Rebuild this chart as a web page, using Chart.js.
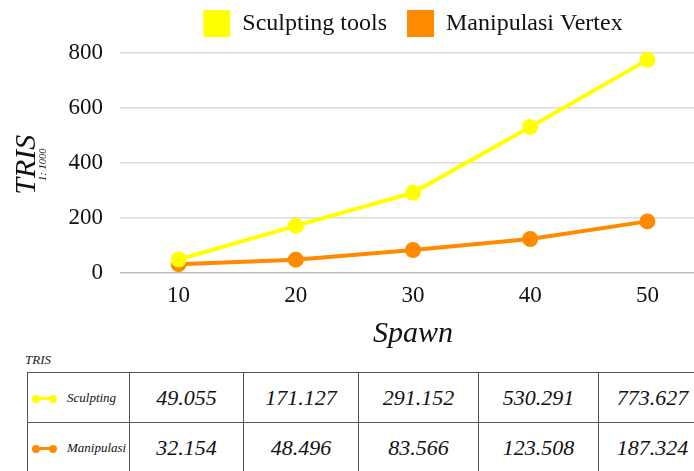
<!DOCTYPE html>
<html>
<head>
<meta charset="utf-8">
<script src="https://cdn.jsdelivr.net/npm/chart.js@4"></script>
<style>
html, body { margin: 0; padding: 0; overflow: hidden; background: #fff; width: 694px; height: 471px; }
#wrap { position: absolute; left: 0; top: 0; width: 716px; height: 352px; }
#tlabel { position: absolute; left: 25px; top: 352px; font: italic 13px "Liberation Serif"; color: #222; }
table { position: absolute; left: 27px; top: 372px; width: 679px; border-collapse: collapse; table-layout: fixed;
        font-family: "Liberation Serif"; font-style: italic; color: #111; }
td { border: 1px solid #555; height: 49px; padding: 0; text-align: center; font-size: 22px; }
td.name { text-align: left; font-size: 13px; white-space: nowrap; }
.mk { display: inline-block; position: relative; width: 25px; height: 8px; margin: 0 10px 0 4px; vertical-align: middle; }
.mk i { position: absolute; left: 2px; right: 2px; top: 2.5px; height: 3px; }
.mk b { position: absolute; top: 0; width: 8px; height: 8px; border-radius: 50%; }
</style>
</head>
<body>
<div id="wrap"><canvas id="trisChart"></canvas></div>
<div id="tlabel">TRIS</div>
<table id="trisTable"></table>
<script>
var spawnLabels = ["10", "20", "30", "40", "50"];
var sculptingTris = [49.055, 171.127, 291.152, 530.291, 773.627];
var manipulasiTris = [32.154, 48.496, 83.566, 123.508, 187.324];
var seriesNames = ["Sculpting tools", "Manipulasi Vertex"];
var rowNames = ["Sculpting", "Manipulasi"];
var seriesColors = ["#ffff00", "#ff8a00"];
var yMax = 800, yStep = 200;

// y axis title with the small "1: 1000" under it
var yTitle = {
    id: "yTitle",
    afterDraw: function (chart) {
        var ctx = chart.ctx, area = chart.chartArea;
        ctx.save();
        ctx.translate(35, (area.top + area.bottom) / 2 + 2);
        ctx.rotate(-Math.PI / 2);
        ctx.fillStyle = "#111";
        ctx.textAlign = "center";
        ctx.textBaseline = "alphabetic";
        ctx.font = "italic 30px 'Liberation Serif'";
        ctx.fillText("TRIS", 0, 0);
        ctx.font = "italic 10.5px 'Liberation Serif'";
        ctx.fillText("1: 1000", 0, 11);
        ctx.restore();
    }
};

// a bit more room under the legend
var legendGap = {
    id: "legendGap",
    beforeInit: function (chart) {
        var fit = chart.legend.fit;
        chart.legend.fit = function () {
            fit.bind(chart.legend)();
            this.height += 5.6;
        };
    }
};

new Chart(document.getElementById("trisChart"), {
    type: "line",
    data: {
        labels: spawnLabels,
        datasets: [
            {
                label: seriesNames[0],
                data: sculptingTris,
                borderColor: seriesColors[0],
                backgroundColor: seriesColors[0],
                pointBackgroundColor: seriesColors[0],
                pointBorderColor: seriesColors[0],
                borderWidth: 4,
                pointRadius: 6,
            },
            {
                label: seriesNames[1],
                data: manipulasiTris,
                borderColor: seriesColors[1],
                backgroundColor: seriesColors[1],
                pointBackgroundColor: seriesColors[1],
                pointBorderColor: seriesColors[1],
                borderWidth: 4,
                pointRadius: 6,
            },
        ],
    },
    options: {
        responsive: true,
        maintainAspectRatio: false,
        animation: false,
        layout: { padding: { right: 5, top: -10, bottom: 0 } },
        plugins: {
            tooltip: { enabled: false },
            legend: {
                position: "top",
                fullSize: false,
                labels: {
                    color: "#111",
                    font: { family: "Liberation Serif", size: 24 },
                    boxWidth: 27,
                    boxHeight: 27,
                    padding: 20,
                    generateLabels: function (chart) {
                        var items = Chart.defaults.plugins.legend.labels.generateLabels(chart);
                        items.forEach(function (it) { it.lineWidth = 0; });
                        return items;
                    },
                },
            },
        },
        scales: {
            x: {
                offset: true,
                afterFit: function (scale) { scale.height = 79; },
                grid: { display: false, drawTicks: false },
                border: { display: false },
                ticks: { color: "#111", padding: 9.5, font: { family: "Liberation Serif", size: 23 } },
                title: {
                    display: true,
                    text: "Spawn",
                    color: "#111",
                    padding: { top: 4, bottom: 0 },
                    font: { family: "Liberation Serif", size: 30, style: "italic" },
                },
            },
            y: {
                min: 0,
                max: yMax,
                afterFit: function (scale) { scale.width = 120; },
                border: { display: false },
                grid: {
                    drawTicks: false,
                    lineWidth: 1.5,
                    color: function (c) { return c.tick && c.tick.value === 0 ? "#bdbdbd" : "#dcdcdc"; },
                },
                ticks: { stepSize: yStep, color: "#111", padding: 17, font: { family: "Liberation Serif", size: 23 } },
            },
        },
    },
    plugins: [yTitle, legendGap],
});

// table under the chart
var colWidths = [102, 114, 115, 120, 120, 108];
var table = document.getElementById("trisTable");
var cg = "<colgroup>" + colWidths.map(function (w) { return '<col style="width:' + w + 'px">'; }).join("") + "</colgroup>";
var rows = [sculptingTris, manipulasiTris].map(function (vals, r) {
    var c = seriesColors[r];
    var mk = '<span class="mk"><i style="background:' + c + '"></i><b style="left:0;background:' + c + '"></b><b style="right:0;background:' + c + '"></b></span>';
    return "<tr><td class=\"name\">" + mk + rowNames[r] + "</td>" +
        vals.map(function (v) { return "<td>" + v.toFixed(3) + "</td>"; }).join("") + "</tr>";
});
table.innerHTML = cg + rows.join("");
</script>
</body>
</html>
